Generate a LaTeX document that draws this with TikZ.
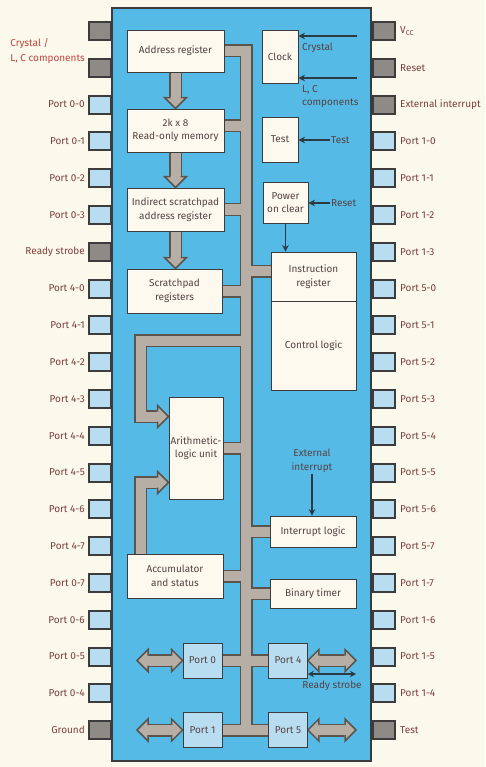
\documentclass[tikz,border=0pt]{standalone}
\usepackage{fontspec}
\setmainfont{Fira Sans}
\usetikzlibrary{arrows.meta,calc}
\pgfdeclarelayer{bglayer}
\pgfdeclarelayer{buslayer}
\pgfsetlayers{bglayer,buslayer,main}
\definecolor{bgc}{HTML}{FBF8EC}
\definecolor{chipc}{HTML}{55BAE6}
\definecolor{pinblue}{HTML}{B8DDF1}
\definecolor{pingray}{HTML}{8E8A86}
\definecolor{edge}{HTML}{3C3C3C}
\definecolor{boxc}{HTML}{FDF9EF}
\definecolor{busf}{HTML}{B7AEA6}
\definecolor{buse}{HTML}{5A544F}
\definecolor{txt}{HTML}{554343}
\definecolor{lbl}{HTML}{7D3F3B}
\definecolor{redl}{HTML}{C0463E}
\definecolor{arr}{HTML}{2E3A42}
\tikzset{
  box/.style={draw=edge, line width=0.9pt, fill=boxc, text=txt, align=center, inner sep=1pt, font=\fontsize{10}{13.5}\selectfont},
  portbox/.style={draw=edge, line width=0.8pt, fill=pinblue, text=txt, inner sep=0pt, minimum width=39, minimum height=35},
  pinb/.style={draw=edge, line width=2pt, fill=pinblue, minimum width=22, minimum height=18, inner sep=0pt},
  ping/.style={pinb, fill=pingray},
  lblL/.style={text=lbl, anchor=east, inner sep=0pt},
  lblR/.style={text=lbl, anchor=west, inner sep=0pt},
  plain/.style={text=txt, inner sep=1pt},
  thinarrow/.style={draw=arr, line width=1.6pt, -{Stealth[length=6.5pt,width=6.5pt]}},
  busout/.style={draw=buse, line width=13pt, line join=miter},
  busin/.style={draw=busf, line width=10pt, line join=miter},
}
\newcommand\bushead[2]{%
  \begin{scope}[shift={#1},rotate=#2]
    \fill[busf] (-11.6,-11) -- (0,0) -- (-11.6,11) -- cycle;
    \draw[buse,line width=1.5pt,line join=miter] (-11,-5) -- (-11,-11) -- (0,0) -- (-11,11) -- (-11,5);
  \end{scope}}
\newcommand\busnet[1]{%
  \draw[#1] (addr.east) -- (addr.east -| busv) -- (busv |- port1.east);
  \draw[#1] (romR) -- (romR -| busv);
  \draw[#1] (indir.east) -- (indir.east -| busv);
  \draw[#1] (scratch.east) -- (scratch.east -| busv);
  \draw[#1] (instrL) -- (instrL -| busv);
  \draw[#1] (alu.east) -- (alu.east -| busv);
  \draw[#1] (accum.east) -- (accum.east -| busv);
  \draw[#1] (intl.west) -- (intl.west -| busv);
  \draw[#1] (timer.west) -- (timer.west -| busv);
  \draw[#1] (port0.east) -- (port4.west);
  \draw[#1] (port1.east) -- (port5.west);
  \draw[#1] (busv |- brY) -- (brX |- brY) -- (brX |- aluA) -- ([xshift=-11pt]aluA);
  \draw[#1] (brX |- accum.north) -- (brX |- aluB) -- ([xshift=-11pt]aluB);
  \draw[#1] (addr.south) -- ([yshift=11pt]t1);
  \draw[#1] (rom.south) -- ([yshift=11pt]t2);
  \draw[#1] (indir.south) -- ([yshift=11pt]t3);
  \draw[#1] ([xshift=11pt]p0x) -- ([xshift=-11pt]port0.west);
  \draw[#1] ([xshift=11pt]port4.east) -- ([xshift=-11pt]p4x);
  \draw[#1] ([xshift=11pt]p1x) -- ([xshift=-11pt]port1.west);
  \draw[#1] ([xshift=11pt]port5.east) -- ([xshift=-11pt]p5x);
}
\begin{document}
\begin{tikzpicture}[x=1pt,y=-1pt,font=\fontsize{10}{12}\selectfont]
\useasboundingbox (0,0) rectangle (485,767);
\begin{pgfonlayer}{bglayer}
  \fill[bgc] (0,0) rectangle (485,767);
  \fill[chipc] (112,8) rectangle (371,761);
  \draw[edge, line width=2.5pt] (112,8) rectangle (371,761);
\end{pgfonlayer}

% pins, left
\node[ping] (L1) at (100,31) {};
\node[ping] (L2) at (100,67.8) {};
\node[anchor=east, text=redl, align=left, inner sep=0pt, font=\fontsize{10}{15}\selectfont] (Lt1) at (85,51) {Crystal /\\L, C components};
\foreach \i/\t/\s in {3/Port 0-0/pinb, 4/Port 0-1/pinb, 5/Port 0-2/pinb, 6/Port 0-3/pinb,
  7/Ready strobe/ping, 8/Port 4-0/pinb, 9/Port 4-1/pinb, 10/Port 4-2/pinb, 11/Port 4-3/pinb,
  12/Port 4-4/pinb, 13/Port 4-5/pinb, 14/Port 4-6/pinb, 15/Port 4-7/pinb, 16/Port 0-7/pinb,
  17/Port 0-6/pinb, 18/Port 0-5/pinb, 19/Port 0-4/pinb, 20/Ground/ping}{
  \pgfmathsetmacro\yy{31+36.8*(\i-1)}
  \node[\s] (L\i) at (100,\yy) {};
  \node[lblL] (Lt\i) at (85,\yy) {\t};
}
% pins, right
\foreach \i/\t/\s in {1/{V\raisebox{-0.3ex}{\fontsize{7}{7}\selectfont CC}}/ping, 2/Reset/ping, 3/External interrupt/ping,
  4/Port 1-0/pinb, 5/Port 1-1/pinb, 6/Port 1-2/pinb, 7/Port 1-3/pinb, 8/Port 5-0/pinb,
  9/Port 5-1/pinb, 10/Port 5-2/pinb, 11/Port 5-3/pinb, 12/Port 5-4/pinb, 13/Port 5-5/pinb,
  14/Port 5-6/pinb, 15/Port 5-7/pinb, 16/Port 1-7/pinb, 17/Port 1-6/pinb, 18/Port 1-5/pinb,
  19/Port 1-4/pinb, 20/Test/ping}{
  \pgfmathsetmacro\yy{31+36.8*(\i-1)}
  \node[\s] (R\i) at (383.5,\yy) {};
  \node[lblR] (Rt\i) at (400,\yy) {\t};
}

% blocks
\node[box, minimum width=97, minimum height=42] (addr) at (175.5,51) {Address register};
\node[box, minimum width=97, minimum height=43] (rom) at (175.5,130.5) {2k x 8\\Read-only memory};
\node[box, minimum width=97, minimum height=43] (indir) at (175.5,209.5) {Indirect scratchpad\\address register};
\node[box, minimum width=95, minimum height=44] (scratch) at (174.5,291) {Scratchpad\\registers};
\node[box, minimum width=36, minimum height=53] (clock) at (280,56.5) {Clock};
\node[box, minimum width=36, minimum height=45] (test) at (280,139.5) {Test};
\node[box, minimum width=45, minimum height=41, font=\fontsize{10}{13}\selectfont] (power) at (285.5,202.5) {Power\\on clear};
\node[box, minimum width=85, minimum height=49] (instr) at (313.5,276.5) {Instruction\\register};
\node[box, minimum width=85, minimum height=89] (ctrl) at (313.5,345.5) {Control logic};
\node[box, minimum width=54, minimum height=102, font=\fontsize{10}{12.5}\selectfont] (alu) at (196,448) {Arithmetic-\\logic unit};
\node[box, minimum width=86, minimum height=31] (intl) at (313,531.5) {Interrupt logic};
\node[box, minimum width=86, minimum height=29] (timer) at (313,593.5) {Binary timer};
\node[box, minimum width=96, minimum height=44] (accum) at (175,576) {Accumulator\\and status};
\node[portbox] (port0) at (202.5,660.5) {Port 0};
\node[portbox] (port4) at (288,660.5) {Port 4};
\node[portbox] (port1) at (202.5,730) {Port 1};
\node[portbox] (port5) at (288,730) {Port 5};

% helper coordinates
\coordinate (busv) at (246,0);
\coordinate (brX) at (140.5,0);
\coordinate (brY) at (0,340.5);
\coordinate (romR) at ([yshift=4.5pt]rom.east);
\coordinate (instrL) at ([yshift=5.5pt]instr.west);
\coordinate (aluA) at ([yshift=31.5pt]alu.west);
\coordinate (aluB) at ([yshift=-34.5pt]alu.west);
\coordinate (t1) at (addr.south |- rom.north);
\coordinate (t2) at (rom.south |- indir.north);
\coordinate (t3) at (indir.south |- scratch.north);
\coordinate (p0x) at (137,660.5);
\coordinate (p4x) at (356,660.5);
\coordinate (p1x) at (137,730);
\coordinate (p5x) at (356,730);

\begin{pgfonlayer}{buslayer}
  \busnet{busout}
  \busnet{busin}
  \bushead{(aluA)}{0}
  \bushead{(aluB)}{0}
  \bushead{(t1)}{-90}
  \bushead{(t2)}{-90}
  \bushead{(t3)}{-90}
  \bushead{(p0x)}{180}
  \bushead{(port0.west)}{0}
  \bushead{(port4.east)}{180}
  \bushead{(p4x)}{0}
  \bushead{(p1x)}{180}
  \bushead{(port1.west)}{0}
  \bushead{(port5.east)}{180}
  \bushead{(p5x)}{0}
\end{pgfonlayer}

% thin signal arrows and their labels
\coordinate (xtal) at (357,36);
\coordinate (lcin) at (357,78);
\draw[thinarrow] (xtal) -- (xtal -| clock.east);
\draw[thinarrow] (lcin) -- (lcin -| clock.east);
\node[plain, anchor=west] (xtaltxt) at (301,48) {Crystal};
\node[plain, anchor=west, align=left, font=\fontsize{10}{13}\selectfont] (lctxt) at (301,96.5) {L, C\\components};
\node[plain, anchor=west] (testtxt) at (330,140) {Test};
\draw[thinarrow] (testtxt.west) -- (testtxt.west -| test.east);
\node[plain, anchor=west] (rsttxt) at (330,203) {Reset};
\draw[thinarrow] (rsttxt.west) -- (rsttxt.west -| power.east);
\draw[thinarrow] (power.south) -- (power.south |- instr.north);
\node[plain, align=center, font=\fontsize{10}{14}\selectfont] (extint) at (312,460.5) {External\\interrupt};
\draw[thinarrow] (extint.south) -- (extint.south |- intl.north);
\coordinate (rsend) at (356,674);
\draw[draw=arr, line width=1.6pt, {Stealth[length=6pt,width=6.5pt]}-{Stealth[length=6pt,width=6.5pt]}] ([yshift=-13.5pt]port4.east) -- (rsend);
\node[plain] (rstxt) at (332,686) {Ready strobe};
\end{tikzpicture}
\end{document}
